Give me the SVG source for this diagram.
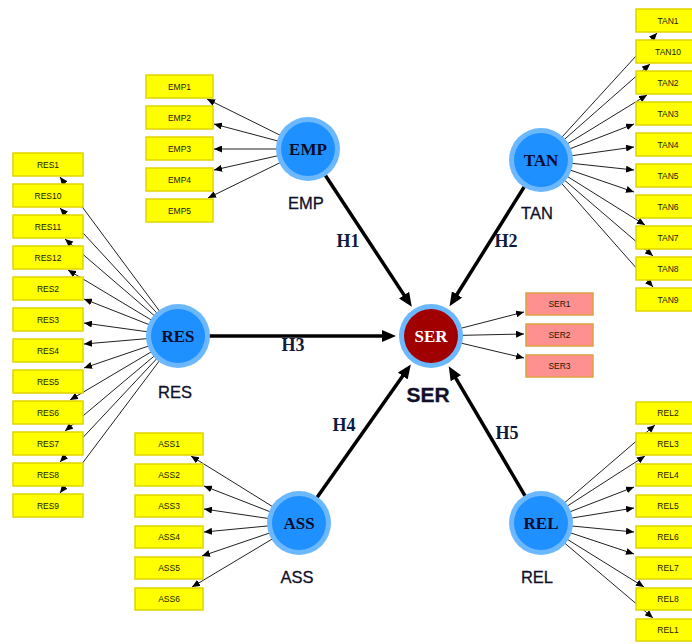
<svg xmlns="http://www.w3.org/2000/svg" width="692" height="644" viewBox="0 0 692 644">
<style>
.bg{fill:#ffffff}
.ind{fill:#ffff00;stroke:#e0d400;stroke-width:1.5}
.sbox{fill:#ff9090;stroke:#e0a040;stroke-width:1.5}
.it{font-family:"Liberation Sans",Arial,sans-serif;font-size:8.5px;fill:#1a1a00;text-anchor:middle}
.ring{fill:#6cb8ff}
.core{fill:#1e90ff}
.sercore{fill:#a00000}
.ct{font-family:"Liberation Serif","Times New Roman",serif;font-size:17px;font-weight:bold;fill:#0a0a2a;text-anchor:middle}
.nl{font-family:"Liberation Sans",Arial,sans-serif;font-size:16.5px;fill:#10102a;stroke:#10102a;stroke-width:0.3;text-anchor:middle}
.hl{font-family:"Liberation Serif","Times New Roman",serif;font-size:18px;font-weight:bold;fill:#0d1b3e;text-anchor:middle}
.thin{stroke:#222;stroke-width:1;fill:none;marker-end:url(#sa)}
.thick{stroke:#000;stroke-width:3.5;fill:none;marker-end:url(#la)}
</style>
<defs>
<marker id="sa" markerUnits="userSpaceOnUse" markerWidth="8" markerHeight="7" refX="8" refY="3.5" orient="auto"><path d="M0,0 L8,3.5 L0,7 z" fill="#000"/></marker>
<marker id="la" markerUnits="userSpaceOnUse" markerWidth="14" markerHeight="12" refX="6" refY="6" orient="auto"><path d="M0,0 L14,6 L0,12 z" fill="#000"/></marker>
</defs>
<rect class="bg" x="0" y="0" width="692" height="644"/>
<g id="connectors">
<line class="thin" x1="308" y1="149" x2="207" y2="99"/>
<line class="thin" x1="308" y1="149" x2="214" y2="124"/>
<line class="thin" x1="308" y1="149" x2="214" y2="149"/>
<line class="thin" x1="308" y1="149" x2="214" y2="170"/>
<line class="thin" x1="308" y1="149" x2="208" y2="198"/>
<line class="thin" x1="541" y1="160" x2="657" y2="33"/>
<line class="thin" x1="541" y1="160" x2="650" y2="64"/>
<line class="thin" x1="541" y1="160" x2="647" y2="95"/>
<line class="thin" x1="541" y1="160" x2="634" y2="124"/>
<line class="thin" x1="541" y1="160" x2="634" y2="147"/>
<line class="thin" x1="541" y1="160" x2="634" y2="170"/>
<line class="thin" x1="541" y1="160" x2="634" y2="192"/>
<line class="thin" x1="541" y1="160" x2="645" y2="225"/>
<line class="thin" x1="541" y1="160" x2="653" y2="256"/>
<line class="thin" x1="541" y1="160" x2="653" y2="287"/>
<line class="thin" x1="178" y1="336" x2="60" y2="177"/>
<line class="thin" x1="178" y1="336" x2="60" y2="208"/>
<line class="thin" x1="178" y1="336" x2="65" y2="239"/>
<line class="thin" x1="178" y1="336" x2="68" y2="270"/>
<line class="thin" x1="178" y1="336" x2="84" y2="299"/>
<line class="thin" x1="178" y1="336" x2="84" y2="323"/>
<line class="thin" x1="178" y1="336" x2="84" y2="344"/>
<line class="thin" x1="178" y1="336" x2="84" y2="368"/>
<line class="thin" x1="178" y1="336" x2="70" y2="400"/>
<line class="thin" x1="178" y1="336" x2="65" y2="431"/>
<line class="thin" x1="178" y1="336" x2="60" y2="462"/>
<line class="thin" x1="178" y1="336" x2="60" y2="493"/>
<line class="thin" x1="431" y1="336" x2="524" y2="312"/>
<line class="thin" x1="431" y1="336" x2="524" y2="334"/>
<line class="thin" x1="431" y1="336" x2="524" y2="358"/>
<line class="thin" x1="299" y1="523" x2="191" y2="456"/>
<line class="thin" x1="299" y1="523" x2="204" y2="486"/>
<line class="thin" x1="299" y1="523" x2="204" y2="509"/>
<line class="thin" x1="299" y1="523" x2="204" y2="532"/>
<line class="thin" x1="299" y1="523" x2="202" y2="556"/>
<line class="thin" x1="299" y1="523" x2="192" y2="587"/>
<line class="thin" x1="541" y1="523" x2="655" y2="425"/>
<line class="thin" x1="541" y1="523" x2="645" y2="456"/>
<line class="thin" x1="541" y1="523" x2="634" y2="487"/>
<line class="thin" x1="541" y1="523" x2="634" y2="508"/>
<line class="thin" x1="541" y1="523" x2="634" y2="532"/>
<line class="thin" x1="541" y1="523" x2="634" y2="554"/>
<line class="thin" x1="541" y1="523" x2="644" y2="587"/>
<line class="thin" x1="541" y1="523" x2="653" y2="618"/>
<line class="thick" x1="308" y1="149" x2="407.4" y2="300.1"/>
<line class="thick" x1="541" y1="160" x2="453.8" y2="299.5"/>
<line class="thick" x1="178" y1="336" x2="388" y2="336"/>
<line class="thick" x1="299" y1="523" x2="406.2" y2="371.1"/>
<line class="thick" x1="541" y1="523" x2="452.8" y2="373.1"/>
<text class="hl" x="348" y="246.5">H1</text>
<text class="hl" x="506" y="246.5">H2</text>
<text class="hl" x="293" y="351">H3</text>
<text class="hl" x="344" y="431">H4</text>
<text class="hl" x="507" y="439">H5</text>
</g>
<g id="EMP1"><rect class="ind" x="146" y="75" width="67" height="23"/><text class="it" x="179.5" y="89.5">EMP1</text></g>
<g id="EMP2"><rect class="ind" x="146" y="106" width="67" height="23"/><text class="it" x="179.5" y="120.5">EMP2</text></g>
<g id="EMP3"><rect class="ind" x="146" y="137" width="67" height="23"/><text class="it" x="179.5" y="151.5">EMP3</text></g>
<g id="EMP4"><rect class="ind" x="146" y="168" width="67" height="23"/><text class="it" x="179.5" y="182.5">EMP4</text></g>
<g id="EMP5"><rect class="ind" x="146" y="199" width="67" height="23"/><text class="it" x="179.5" y="213.5">EMP5</text></g>
<g id="TAN1"><rect class="ind" x="636" y="9" width="64" height="23"/><text class="it" x="668" y="23.5">TAN1</text></g>
<g id="TAN10"><rect class="ind" x="636" y="40" width="64" height="23"/><text class="it" x="668" y="54.5">TAN10</text></g>
<g id="TAN2"><rect class="ind" x="636" y="71" width="64" height="23"/><text class="it" x="668" y="85.5">TAN2</text></g>
<g id="TAN3"><rect class="ind" x="636" y="102" width="64" height="23"/><text class="it" x="668" y="116.5">TAN3</text></g>
<g id="TAN4"><rect class="ind" x="636" y="133" width="64" height="23"/><text class="it" x="668" y="147.5">TAN4</text></g>
<g id="TAN5"><rect class="ind" x="636" y="164" width="64" height="23"/><text class="it" x="668" y="178.5">TAN5</text></g>
<g id="TAN6"><rect class="ind" x="636" y="195" width="64" height="23"/><text class="it" x="668" y="209.5">TAN6</text></g>
<g id="TAN7"><rect class="ind" x="636" y="226" width="64" height="23"/><text class="it" x="668" y="240.5">TAN7</text></g>
<g id="TAN8"><rect class="ind" x="636" y="257" width="64" height="23"/><text class="it" x="668" y="271.5">TAN8</text></g>
<g id="TAN9"><rect class="ind" x="636" y="288" width="64" height="23"/><text class="it" x="668" y="302.5">TAN9</text></g>
<g id="RES1"><rect class="ind" x="13" y="153" width="70" height="23"/><text class="it" x="48" y="167.5">RES1</text></g>
<g id="RES10"><rect class="ind" x="13" y="184" width="70" height="23"/><text class="it" x="48" y="198.5">RES10</text></g>
<g id="RES11"><rect class="ind" x="13" y="215" width="70" height="23"/><text class="it" x="48" y="229.5">RES11</text></g>
<g id="RES12"><rect class="ind" x="13" y="246" width="70" height="23"/><text class="it" x="48" y="260.5">RES12</text></g>
<g id="RES2"><rect class="ind" x="13" y="277" width="70" height="23"/><text class="it" x="48" y="291.5">RES2</text></g>
<g id="RES3"><rect class="ind" x="13" y="308" width="70" height="23"/><text class="it" x="48" y="322.5">RES3</text></g>
<g id="RES4"><rect class="ind" x="13" y="339" width="70" height="23"/><text class="it" x="48" y="353.5">RES4</text></g>
<g id="RES5"><rect class="ind" x="13" y="370" width="70" height="23"/><text class="it" x="48" y="384.5">RES5</text></g>
<g id="RES6"><rect class="ind" x="13" y="401" width="70" height="23"/><text class="it" x="48" y="415.5">RES6</text></g>
<g id="RES7"><rect class="ind" x="13" y="432" width="70" height="23"/><text class="it" x="48" y="446.5">RES7</text></g>
<g id="RES8"><rect class="ind" x="13" y="463" width="70" height="23"/><text class="it" x="48" y="477.5">RES8</text></g>
<g id="RES9"><rect class="ind" x="13" y="494" width="70" height="23"/><text class="it" x="48" y="508.5">RES9</text></g>
<g id="SER1"><rect class="sbox" x="526" y="293" width="67" height="22"/><text class="it" x="559.5" y="307">SER1</text></g>
<g id="SER2"><rect class="sbox" x="526" y="324" width="67" height="22"/><text class="it" x="559.5" y="338">SER2</text></g>
<g id="SER3"><rect class="sbox" x="526" y="355" width="67" height="22"/><text class="it" x="559.5" y="369">SER3</text></g>
<g id="ASS1"><rect class="ind" x="135" y="433" width="68" height="22"/><text class="it" x="169" y="447">ASS1</text></g>
<g id="ASS2"><rect class="ind" x="135" y="464" width="68" height="22"/><text class="it" x="169" y="478">ASS2</text></g>
<g id="ASS3"><rect class="ind" x="135" y="495" width="68" height="22"/><text class="it" x="169" y="509">ASS3</text></g>
<g id="ASS4"><rect class="ind" x="135" y="526" width="68" height="22"/><text class="it" x="169" y="540">ASS4</text></g>
<g id="ASS5"><rect class="ind" x="135" y="557" width="68" height="22"/><text class="it" x="169" y="571">ASS5</text></g>
<g id="ASS6"><rect class="ind" x="135" y="588" width="68" height="22"/><text class="it" x="169" y="602">ASS6</text></g>
<g id="REL2"><rect class="ind" x="636" y="402" width="64" height="22"/><text class="it" x="668" y="416">REL2</text></g>
<g id="REL3"><rect class="ind" x="636" y="433" width="64" height="22"/><text class="it" x="668" y="447">REL3</text></g>
<g id="REL4"><rect class="ind" x="636" y="464" width="64" height="22"/><text class="it" x="668" y="478">REL4</text></g>
<g id="REL5"><rect class="ind" x="636" y="495" width="64" height="22"/><text class="it" x="668" y="509">REL5</text></g>
<g id="REL6"><rect class="ind" x="636" y="526" width="64" height="22"/><text class="it" x="668" y="540">REL6</text></g>
<g id="REL7"><rect class="ind" x="636" y="557" width="64" height="22"/><text class="it" x="668" y="571">REL7</text></g>
<g id="REL8"><rect class="ind" x="636" y="588" width="64" height="22"/><text class="it" x="668" y="602">REL8</text></g>
<g id="REL1"><rect class="ind" x="636" y="619" width="64" height="22"/><text class="it" x="668" y="633">REL1</text></g>
<g id="EMP"><circle class="ring" cx="308" cy="149" r="32"/><circle class="core" cx="308" cy="149" r="27"/><text class="ct" x="308" y="155">EMP</text><text class="nl" x="306" y="209">EMP</text></g>
<g id="TAN"><circle class="ring" cx="541" cy="160" r="32"/><circle class="core" cx="541" cy="160" r="27"/><text class="ct" x="541" y="166">TAN</text><text class="nl" x="537" y="219">TAN</text></g>
<g id="RES"><circle class="ring" cx="178" cy="336" r="32"/><circle class="core" cx="178" cy="336" r="27"/><text class="ct" x="178" y="342">RES</text><text class="nl" x="175" y="398">RES</text></g>
<g id="SER"><circle class="ring" cx="431" cy="336" r="32"/><circle class="sercore" cx="431" cy="336" r="27"/><text class="ct" x="431" y="342" style="fill:#ffffff">SER</text><text class="nl" x="428" y="402" style="font-size:21px;font-weight:bold">SER</text></g>
<g id="ASS"><circle class="ring" cx="299" cy="523" r="32"/><circle class="core" cx="299" cy="523" r="27"/><text class="ct" x="299" y="529">ASS</text><text class="nl" x="297" y="583">ASS</text></g>
<g id="REL"><circle class="ring" cx="541" cy="523" r="32"/><circle class="core" cx="541" cy="523" r="27"/><text class="ct" x="541" y="529">REL</text><text class="nl" x="537" y="583">REL</text></g>
</svg>
